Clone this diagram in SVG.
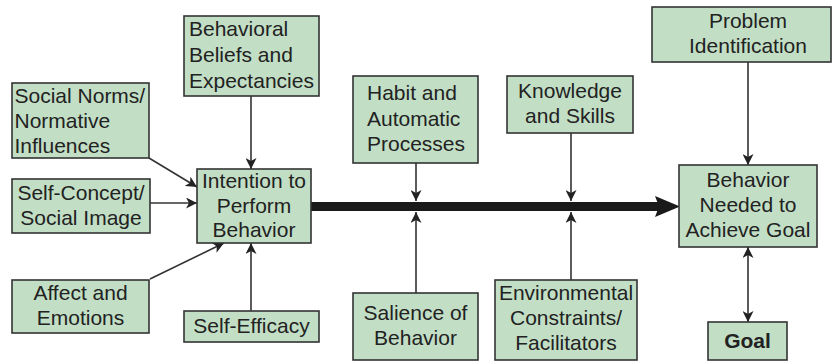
<svg xmlns="http://www.w3.org/2000/svg" width="832" height="362" viewBox="0 0 832 362">
<style>
.box{fill:#c2dfc6;stroke:#333;stroke-width:1.6}
text{font-family:"Liberation Sans",Arial,sans-serif;font-size:21px;fill:#222}
.c{text-anchor:middle}
.con{stroke:#333;stroke-width:1.6;fill:none}
</style>
<defs>
<marker id="ah" markerUnits="userSpaceOnUse" markerWidth="12" markerHeight="11" refX="11" refY="5.5" orient="auto-start-reverse">
<path d="M0,0 L11,5.5 L0,11 L3,5.5 z" fill="#222"/>
</marker>
</defs>
<rect width="832" height="362" fill="#fff"/>
<g id="connectors">
<line class="con" x1="251" y1="96" x2="251" y2="169" marker-end="url(#ah)"/>
<line class="con" x1="149" y1="158" x2="197" y2="187" marker-end="url(#ah)"/>
<line class="con" x1="150" y1="203" x2="197" y2="203" marker-end="url(#ah)"/>
<line class="con" x1="150" y1="279" x2="224" y2="243" marker-end="url(#ah)"/>
<line class="con" x1="251" y1="311" x2="251" y2="243" marker-end="url(#ah)"/>
<line x1="311" y1="206.5" x2="660" y2="206.5" stroke="#1a1a1a" stroke-width="9"/>
<polygon points="655,196 680,206.5 655,217 659,206.5" fill="#1a1a1a"/>
<line class="con" x1="416" y1="163" x2="416" y2="201" marker-end="url(#ah)"/>
<line class="con" x1="571" y1="133" x2="571" y2="201" marker-end="url(#ah)"/>
<line class="con" x1="416" y1="293" x2="416" y2="212" marker-end="url(#ah)"/>
<line class="con" x1="571" y1="280" x2="571" y2="212" marker-end="url(#ah)"/>
<line class="con" x1="748" y1="62" x2="748" y2="165" marker-end="url(#ah)"/>
<line class="con" x1="748" y1="247" x2="748" y2="322" marker-start="url(#ah)" marker-end="url(#ah)"/>
</g>
<g id="behavioral-beliefs">
<rect class="box" x="184" y="16" width="135" height="80"/>
<text x="189" y="36">Behavioral</text>
<text x="189" y="62">Beliefs and</text>
<text x="189" y="88">Expectancies</text>
</g>
<g id="social-norms">
<rect class="box" x="12" y="83" width="137" height="75"/>
<text x="14.5" y="103">Social Norms/</text>
<text x="14.5" y="128">Normative</text>
<text x="14.5" y="153">Influences</text>
</g>
<g id="self-concept">
<rect class="box" x="12" y="179" width="138" height="54"/>
<text class="c" x="81" y="200">Self-Concept/</text>
<text class="c" x="81" y="225">Social Image</text>
</g>
<g id="intention">
<rect class="box" x="197" y="169" width="114" height="74"/>
<text class="c" x="254" y="188">Intention to</text>
<text class="c" x="254" y="213">Perform</text>
<text class="c" x="254" y="237">Behavior</text>
</g>
<g id="affect">
<rect class="box" x="12" y="280" width="137" height="53"/>
<text class="c" x="80.5" y="300">Affect and</text>
<text class="c" x="80.5" y="325">Emotions</text>
</g>
<g id="self-efficacy">
<rect class="box" x="184" y="311" width="135" height="31"/>
<text class="c" x="251.5" y="333">Self-Efficacy</text>
</g>
<g id="habit">
<rect class="box" x="353" y="76" width="125" height="87"/>
<text x="367" y="100">Habit and</text>
<text x="367" y="126">Automatic</text>
<text x="367" y="151">Processes</text>
</g>
<g id="knowledge">
<rect class="box" x="507" y="76" width="126" height="57"/>
<text class="c" x="570" y="98">Knowledge</text>
<text class="c" x="570" y="123">and Skills</text>
</g>
<g id="salience">
<rect class="box" x="353" y="293" width="125" height="67"/>
<text class="c" x="415.5" y="320">Salience of</text>
<text class="c" x="415.5" y="345">Behavior</text>
</g>
<g id="environmental">
<rect class="box" x="495" y="280" width="142" height="80"/>
<text class="c" x="566" y="300">Environmental</text>
<text class="c" x="566" y="325">Constraints/</text>
<text class="c" x="566" y="350">Facilitators</text>
</g>
<g id="problem-identification">
<rect class="box" x="652" y="7" width="179" height="55"/>
<text class="c" x="748" y="28">Problem</text>
<text class="c" x="748" y="53">Identification</text>
</g>
<g id="behavior-needed">
<rect class="box" x="679" y="165" width="138" height="82"/>
<text class="c" x="748" y="187">Behavior</text>
<text class="c" x="748" y="212">Needed to</text>
<text class="c" x="748" y="237">Achieve Goal</text>
</g>
<g id="goal">
<rect class="box" x="708" y="322" width="79" height="38"/>
<text class="c" x="747.5" y="348" font-weight="bold">Goal</text>
</g>
</svg>
